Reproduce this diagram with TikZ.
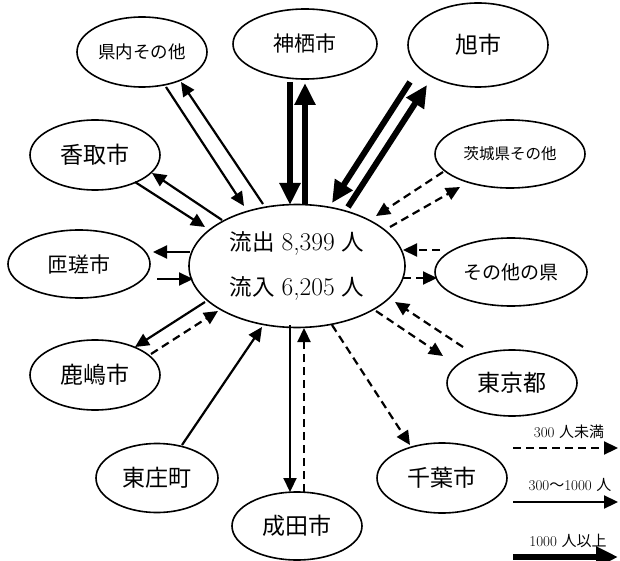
\documentclass[tikz,border=0pt]{standalone}
\usepackage{fontspec}
\newfontfamily\jp{Noto Sans CJK JP}
\usetikzlibrary{arrows.meta,calc,shapes.geometric}
\tikzset{
  city/.style={draw, line width=1.6pt, ellipse, inner sep=0pt, font=\jp\fontsize{23}{23}\selectfont},
  thinarrow/.style={line width=2.2pt, -{Triangle[length=14pt,width=13pt]}},
  dasharrow/.style={thinarrow, dash pattern=on 8pt off 5pt},
  thickarrow/.style={line width=6pt, -{Triangle[length=22pt,width=20pt]}},
  legendtext/.style={inner sep=0pt, font=\fontsize{15}{15}\selectfont},
}
\newcommand{\bignum}[1]{{\fontsize{25.5}{45}\selectfont #1}}
\begin{document}
\begin{tikzpicture}[x=1pt, y=-1pt]
\useasboundingbox (0,0) rectangle (620,561);
% centre
\node[city, minimum width=216pt, minimum height=123pt, align=center,
      font=\fontsize{22.5}{45}\selectfont] (C) at (297,266)
  {{\jp 流出} \bignum{8,399} {\jp 人}\\{\jp 流入} \bignum{6,205} {\jp 人}};
% satellites
\node[city, minimum width=130pt, minimum height=70pt, font=\jp\fontsize{17.5}{17.5}\selectfont] (KN) at (142,52) {県内その他};
\node[city, minimum width=144pt, minimum height=70pt, font=\jp\fontsize{21}{21}\selectfont] (KM) at (305,44) {神栖市};
\node[city, minimum width=140pt, minimum height=84pt] (AS) at (478,45) {旭市};
\node[city, minimum width=130pt, minimum height=70pt] (KT) at (95,155) {香取市};
\node[city, minimum width=150pt, minimum height=68pt, font=\jp\fontsize{15.5}{15.5}\selectfont] (IB) at (510,154) {茨城県その他};
\node[city, minimum width=142pt, minimum height=68pt, font=\jp\fontsize{21}{21}\selectfont] (SO) at (79,264) {匝瑳市};
\node[city, minimum width=152pt, minimum height=68pt, font=\jp\fontsize{19}{19}\selectfont] (OP) at (511,272) {その他の県};
\node[city, minimum width=130pt, minimum height=70pt] (KS) at (95,375) {鹿嶋市};
\node[city, minimum width=130pt, minimum height=66pt] (TK) at (512,383) {東京都};
\node[city, minimum width=122pt, minimum height=69pt] (TS) at (157,478) {東庄町};
\node[city, minimum width=130pt, minimum height=68pt] (NR) at (297,526) {成田市};
\node[city, minimum width=130pt, minimum height=70pt] (CB) at (442,478) {千葉市};
% connectors
\draw[thinarrow] ($(KN)+(24,35)$) -- ($(C)+(-53,-60)$);
\draw[thinarrow] ($(C)+(-34,-62)$) -- ($(KN)+(39,30)$);
\draw[thickarrow] ($(KM)+(-15,38)$) -- ($(C)+(-7,-61)$);
\draw[thickarrow] ($(C)+(8,-61)$) -- ($(KM)+(0,39)$);
\draw[thickarrow] ($(AS)+(-68,37)$) -- ($(C)+(35,-63)$);
\draw[thickarrow] ($(C)+(51,-59)$) -- ($(AS)+(-51,40)$);
\draw[dasharrow] ($(IB)+(-67,18)$) -- ($(C)+(79,-50)$);
\draw[dasharrow] ($(C)+(93,-39)$) -- ($(IB)+(-50,33)$);
\draw[dasharrow] ($(OP)+(-71,-22)$) -- ($(C)+(106,-16)$);
\draw[dasharrow] ($(C)+(106,12)$) -- ($(OP)+(-74,6)$);
\draw[dasharrow] ($(TK)+(-49,-36)$) -- ($(C)+(98,36)$);
\draw[dasharrow] ($(C)+(79,45)$) -- ($(TK)+(-69,-27)$);
\draw[dasharrow] ($(C)+(35,59)$) -- ($(CB)+(-32,-33)$);
\draw[thinarrow] ($(C)+(-7,59)$) -- ($(NR)+(-7,-34)$);
\draw[dasharrow] ($(NR)+(7,-34)$) -- ($(C)+(7,62)$);
\draw[thinarrow] ($(TS)+(25,-33)$) -- ($(C)+(-35,61)$);
\draw[thinarrow] ($(C)+(-92,36)$) -- ($(KS)+(40,-28)$);
\draw[dasharrow] ($(KS)+(56,-21)$) -- ($(C)+(-79,45)$);
\draw[thinarrow] ($(C)+(-107,-14)$) -- ($(SO)+(74,-12)$);
\draw[thinarrow] ($(SO)+(78,15)$) -- ($(C)+(-104,13)$);
\draw[thinarrow] ($(C)+(-75,-46)$) -- ($(KT)+(57,18)$);
\draw[thinarrow] ($(KT)+(40,27)$) -- ($(C)+(-92,-39)$);
% legend
\node[legendtext] (L1) at (569,432) {300 {\jp 人未満}};
\node[legendtext] (L2) at (570,485) {300{\jp 〜}1000 {\jp 人}};
\node[legendtext] (L3) at (568,541) {1000 {\jp 人以上}};
\coordinate (LD1) at (513,448); \coordinate (LD2) at (618,448);
\coordinate (LS1) at (513,502); \coordinate (LS2) at (618,502);
\coordinate (LT1) at (513,557); \coordinate (LT2) at (618,557);
\draw[dasharrow] (LD1) -- (LD2);
\draw[thinarrow] (LS1) -- (LS2);
\draw[thickarrow] (LT1) -- (LT2);
\end{tikzpicture}
\end{document}
